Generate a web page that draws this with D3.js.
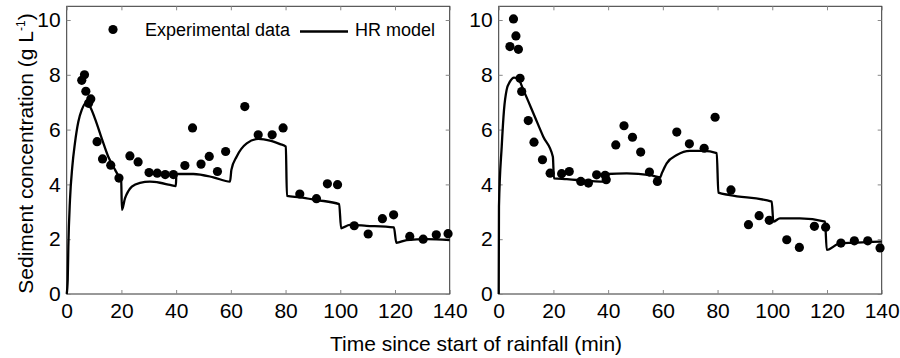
<!DOCTYPE html>
<html>
<head>
<meta charset="utf-8">
<script src="https://cdn.jsdelivr.net/npm/d3@7"></script>
<style>
  body { margin: 0; background: #fff; }
  svg { display: block; font-family: Arial, "Liberation Sans", sans-serif; }
</style>
</head>
<body>
<div id="chart"></div>
<script>
// tick values
const xTicks = [0, 20, 40, 60, 80, 100, 120, 140];
const yTicks = [0, 2, 4, 6, 8, 10];

// left panel: measured points
const leftObsT = [5.5, 6.5, 7, 8.8, 8, 11.1, 13.1, 16.1, 19.1, 23.1, 26.1, 30.1, 33.1, 36, 39, 43.2, 46, 49.1, 52.1, 55.1, 58.1, 65.1, 70, 75.1, 79.1, 85.2, 91.3, 95.3, 99, 105.1, 110.2, 115.4, 119.5, 125.4, 130.3, 135.1, 139.4];
const leftObsC = [7.8, 8.0, 7.4, 7.12, 6.96, 5.56, 4.93, 4.7, 4.23, 5.04, 4.82, 4.43, 4.41, 4.36, 4.36, 4.69, 6.06, 4.74, 5.02, 4.47, 5.2, 6.84, 5.81, 5.81, 6.06, 3.65, 3.48, 4.02, 3.99, 2.49, 2.19, 2.75, 2.89, 2.1, 2.0, 2.16, 2.2];

// left panel: HR model
const leftModelT = [0, 0.37, 0.6, 1.2, 2.05, 3.0, 4.25, 5.5, 6.9, 8.5, 10.3, 12.8, 15.2, 17.7, 19.5, 19.9, 20.2, 21.3, 22.5, 23.8, 26.8, 30.4, 34.1, 37.8, 39.9, 40.1, 46.3, 53.6, 59.7, 60.2, 62.1, 65.8, 70, 74.3, 78, 80.1, 80.5, 85.3, 91.4, 99.6, 100.3, 103.5, 109.6, 119.6, 120.5, 124.3, 131.6, 140];
const leftModelC = [0, 0.51, 1.73, 3.43, 4.65, 5.5, 6.29, 6.72, 6.96, 6.84, 6.41, 5.68, 5.01, 4.53, 4.22, 4.17, 3.07, 3.49, 3.75, 3.92, 4.06, 4.1, 4.06, 3.98, 3.94, 4.38, 4.38, 4.26, 4.1, 4.53, 5.01, 5.5, 5.66, 5.6, 5.47, 5.38, 3.58, 3.53, 3.43, 3.28, 2.4, 2.52, 2.49, 2.43, 1.87, 1.97, 2.0, 1.97];

// right panel: measured points
const rightObsT = [4.1, 5.4, 6.3, 7.2, 7.8, 8.4, 10.8, 12.9, 16.0, 18.8, 23.0, 25.8, 30.0, 32.8, 35.8, 38.9, 39.3, 42.8, 45.8, 48.9, 51.9, 55.1, 58.0, 65.1, 69.7, 75.1, 79.1, 84.9, 91.3, 95.2, 98.9, 105.3, 109.9, 115.4, 119.5, 125.1, 130.0, 134.9, 139.4];
const rightObsC = [9.03, 10.04, 9.42, 8.93, 7.87, 7.39, 6.33, 5.54, 4.9, 4.41, 4.39, 4.47, 4.11, 4.05, 4.35, 4.33, 4.17, 5.44, 6.14, 5.72, 5.18, 4.45, 4.11, 5.91, 5.48, 5.32, 6.45, 3.8, 2.53, 2.86, 2.69, 1.98, 1.7, 2.47, 2.44, 1.86, 1.94, 1.94, 1.68];

// right panel: HR model
const rightModelT = [0, 0.1, 1.1, 1.94, 2.9, 4.1, 5.6, 7.2, 9, 12.7, 16.3, 19.8, 20.2, 24.9, 28.5, 38.9, 39.6, 46.8, 55.3, 59, 59.6, 61.4, 65.1, 69.9, 74.8, 79.7, 80.3, 84.5, 99.8, 100.4, 102.8, 110.1, 119.3, 119.9, 124.7, 129.6, 139.4, 140];
const rightModelC = [0, 3.19, 5.38, 6.72, 7.45, 7.75, 7.9, 7.84, 7.45, 6.59, 5.74, 5.01, 4.22, 4.19, 4.16, 4.1, 4.38, 4.4, 4.34, 4.26, 4.4, 4.77, 5.07, 5.22, 5.22, 5.14, 3.7, 3.61, 3.37, 2.64, 2.76, 2.76, 2.64, 1.61, 1.85, 1.87, 1.91, 1.91];

const W = 900, H = 358;
const svg = d3.select('#chart').append('svg')
  .attr('width', W)
  .attr('height', H);

const yTop = 6.3, yBottom = 294;
const y = d3.scaleLinear().domain([0, 10.5]).range([yBottom, yTop]);

function drawPanel(left, obsT, obsC, modT, modC, withLegend) {
  const x = d3.scaleLinear().domain([0, 140]).range([left, left + 383]);
  const g = svg.append('g');

  // frame
  g.append('rect')
    .attr('x', x(0)).attr('y', yTop)
    .attr('width', x(140) - x(0)).attr('height', yBottom - yTop)
    .attr('fill', 'none').attr('stroke', '#333').attr('stroke-width', 1);

  const bottom = g.append('g')
    .attr('transform', `translate(0,${yBottom})`)
    .call(d3.axisBottom(x).tickValues(xTicks).tickSize(-4).tickPadding(9));
  const top = g.append('g')
    .attr('transform', `translate(0,${yTop})`)
    .call(d3.axisTop(x).tickValues(xTicks).tickSize(-4).tickFormat(''));
  const leftAx = g.append('g')
    .attr('transform', `translate(${x(0)},0)`)
    .call(d3.axisLeft(y).tickValues(yTicks).tickSize(-4).tickPadding(6));
  const rightAx = g.append('g')
    .attr('transform', `translate(${x(140)},0)`)
    .call(d3.axisRight(y).tickValues(yTicks).tickSize(-4).tickFormat(''));

  [bottom, top, leftAx, rightAx].forEach(a => {
    a.select('.domain').remove();
    a.selectAll('line').attr('stroke', '#888');
    a.selectAll('text')
      .attr('fill', '#000')
      .style('font-size', '21px')
      .style('font-family', 'Arial, "Liberation Sans", sans-serif');
  });

  // model curve
  const pts = modT.map((t, i) => [t, modC[i]]);
  const line = d3.line()
    .x(d => x(d[0]))
    .y(d => y(d[1]))
    .curve(d3.curveMonotoneX);
  g.append('path')
    .datum(pts)
    .attr('fill', 'none')
    .attr('stroke', '#000')
    .attr('stroke-width', 2.3)
    .attr('stroke-linejoin', 'round')
    .attr('d', line);

  // observations
  g.selectAll('circle.obs')
    .data(obsT.map((t, i) => [t, obsC[i]]))
    .enter().append('circle')
    .attr('class', 'obs')
    .attr('cx', d => x(d[0]))
    .attr('cy', d => y(d[1]))
    .attr('r', 4.6)
    .attr('fill', '#000');

  if (withLegend) {
    const lg = g.append('g');
    lg.append('circle').attr('cx', 113).attr('cy', 29.5).attr('r', 4.6).attr('fill', '#000');
    lg.append('text').attr('x', 145).attr('y', 36)
      .style('font-size', '18px').text('Experimental data');
    lg.append('line').attr('x1', 300).attr('x2', 348).attr('y1', 31.5).attr('y2', 31.5)
      .attr('stroke', '#000').attr('stroke-width', 2.3);
    lg.append('text').attr('x', 355).attr('y', 36)
      .style('font-size', '18px').text('HR model');
  }
}

drawPanel(66.7, leftObsT, leftObsC, leftModelT, leftModelC, true);
drawPanel(498.7, rightObsT, rightObsC, rightModelT, rightModelC, false);

// axis titles
svg.append('text')
  .attr('x', 476).attr('y', 351)
  .attr('text-anchor', 'middle')
  .style('font-size', '21px')
  .text('Time since start of rainfall (min)');

const yl = svg.append('text')
  .attr('transform', 'translate(33,153.5) rotate(-90)')
  .attr('text-anchor', 'middle')
  .style('font-size', '21px');
yl.append('tspan').text('Sediment concentration (g L');
yl.append('tspan').attr('dy', -8).style('font-size', '12px').text('-1');
yl.append('tspan').attr('dy', 8).text(')');
</script>
</body>
</html>
